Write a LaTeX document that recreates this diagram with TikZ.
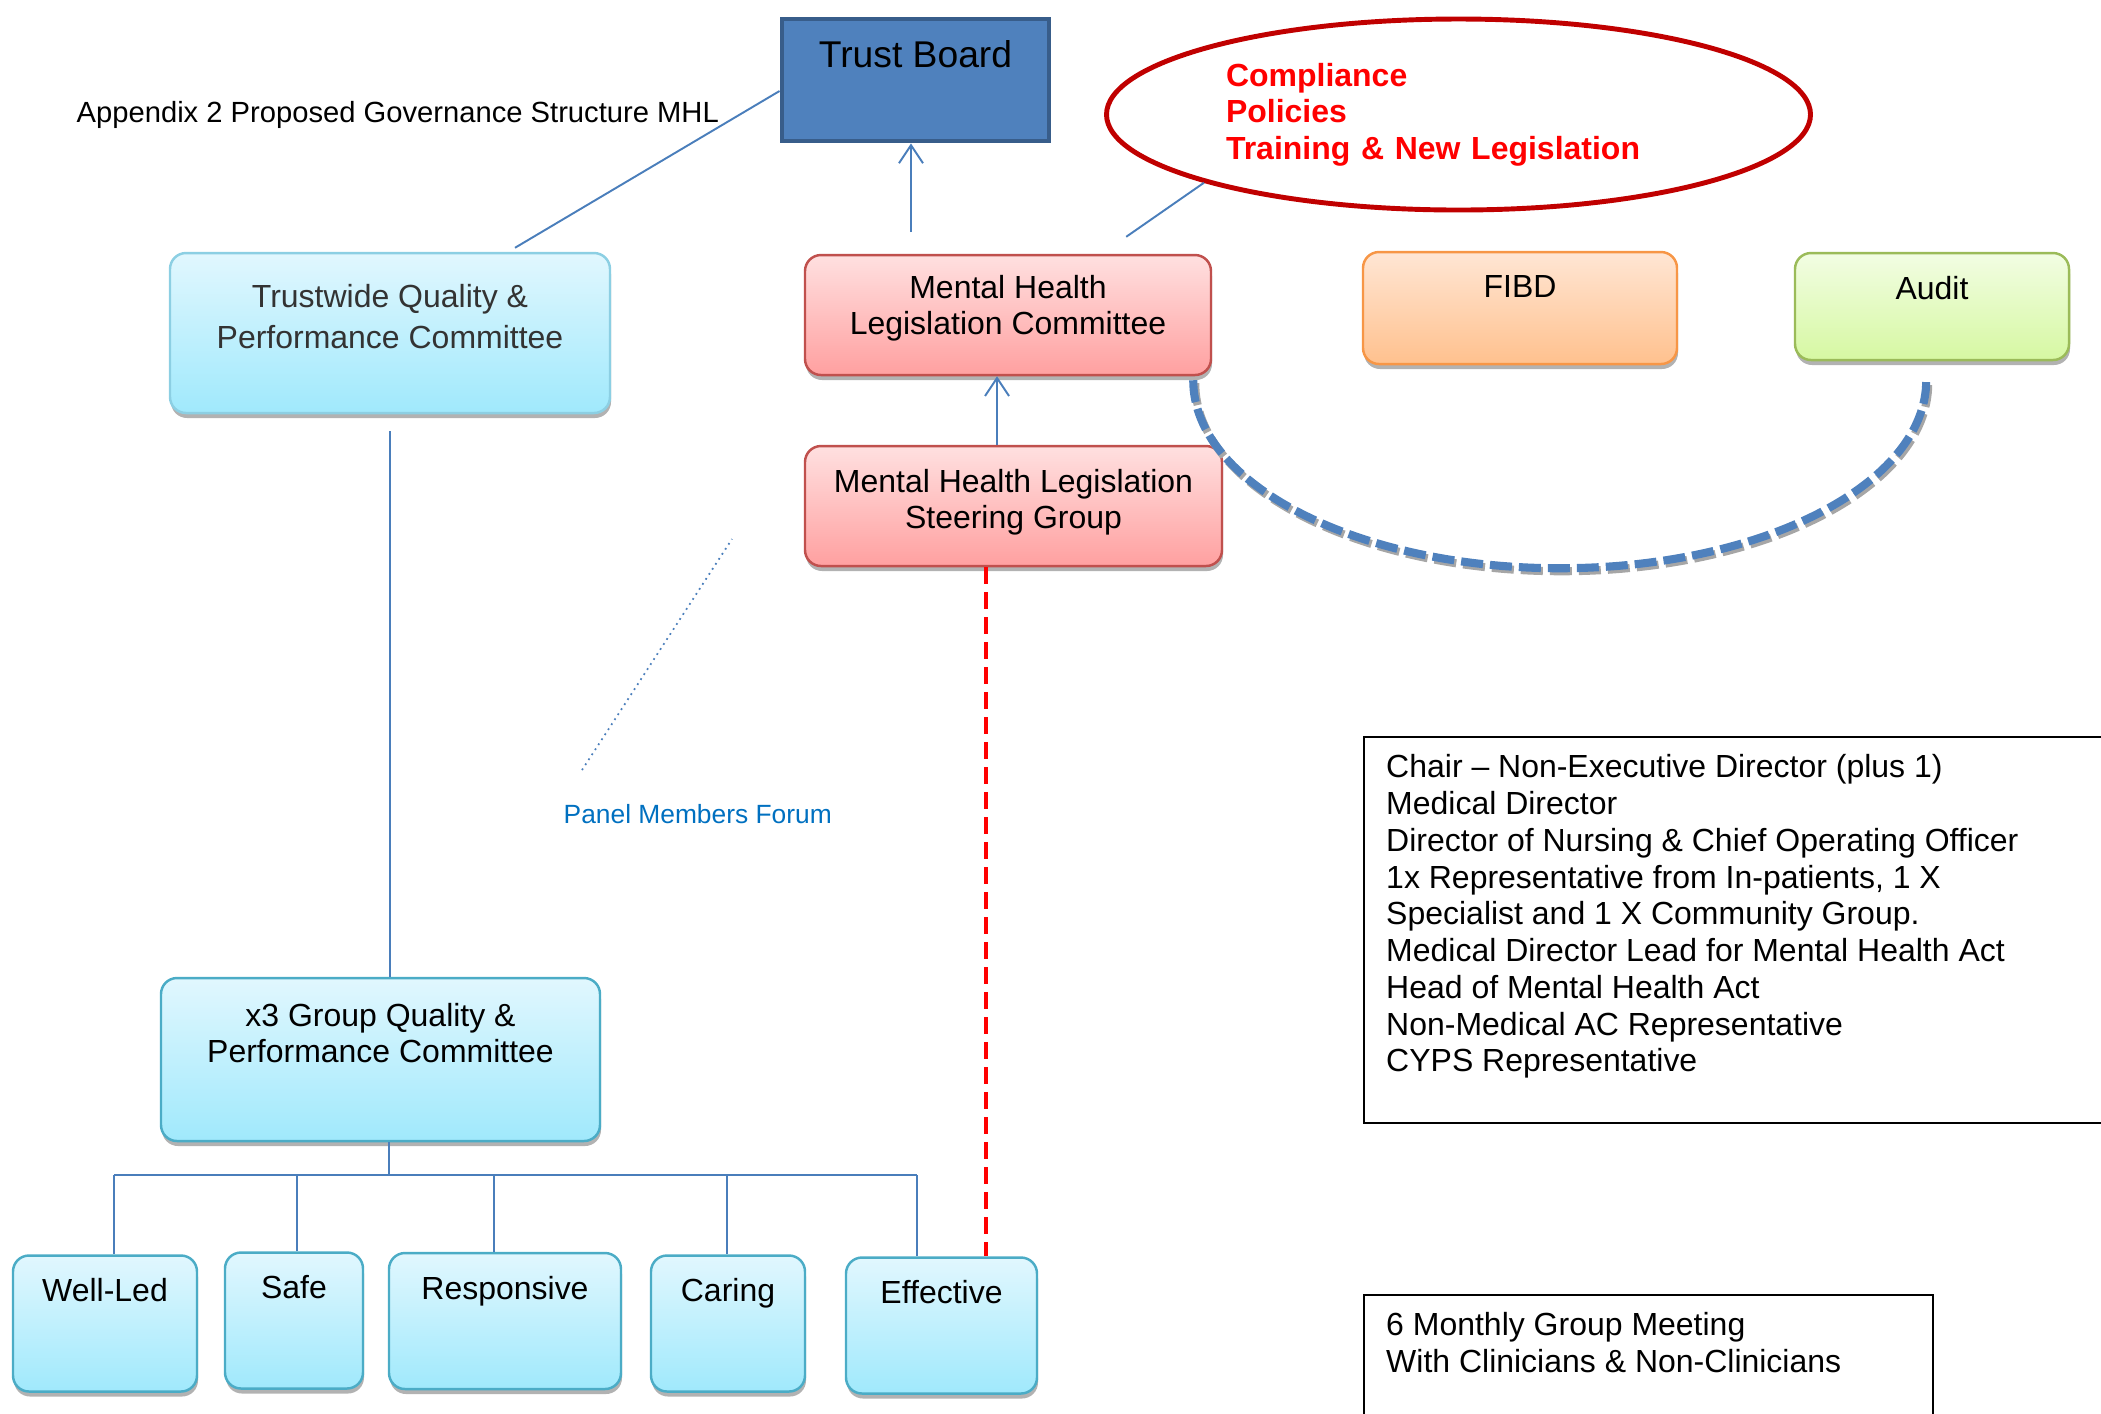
\documentclass[tikz,border=0pt]{standalone}
\usepackage{fontspec}
\setmainfont{Liberation Sans}
\usetikzlibrary{calc,arrows.meta,shapes.geometric,shadows}
\definecolor{linkblue}{HTML}{4A7EBB}
\definecolor{boardblue}{HTML}{4F81BD}
\definecolor{boardedge}{HTML}{385D8A}
\definecolor{aquatop}{HTML}{E1F7FE}
\definecolor{aquabot}{HTML}{A0E9FC}
\definecolor{aquaedge}{HTML}{4BACC6}
\definecolor{aquasoft}{HTML}{8CCFE3}
\definecolor{rosetop}{HTML}{FFE0E0}
\definecolor{rosebot}{HTML}{FFA0A0}
\definecolor{roseedge}{HTML}{C0504D}
\definecolor{ambertop}{HTML}{FFE6D4}
\definecolor{amberbot}{HTML}{FFC18E}
\definecolor{amberedge}{HTML}{F79646}
\definecolor{limetop}{HTML}{F2FDE3}
\definecolor{limebot}{HTML}{D6F8A2}
\definecolor{limeedge}{HTML}{9BBB59}
\definecolor{ovalred}{HTML}{C00000}
\definecolor{forumblue}{HTML}{0070C0}
\newcommand{\boxlines}[1]{\begin{tabular}[t]{@{}c@{}}#1\end{tabular}}
\tikzset{
	orgbox/.style={rectangle, rounded corners=0.16cm, line width=0.7pt, inner xsep=0pt, inner ysep=0pt, text height=0.46cm, font=\fontsize{9.1}{10.5}\selectfont, drop shadow={shadow xshift=0.01cm, shadow yshift=-0.05cm, fill=black, opacity=0.3}},
	aquabox/.style={orgbox, draw=aquaedge, top color=aquatop, bottom color=aquabot},
	rosebox/.style={orgbox, draw=roseedge, top color=rosetop, bottom color=rosebot},
	notebox/.style={rectangle, draw=black, line width=0.7pt, anchor=north west, inner xsep=0.22cm, inner ysep=0pt, font=\fontsize{9.1}{10.46}\selectfont},
	link/.style={draw=linkblue, line width=0.55pt},
	rise/.style={link, -{Straight Barb[length=1.8mm, width=2.4mm]}},
	loopdash/.style={line width=2.3pt, dash pattern=on 0.22cm off 0.07cm}
}
\begin{document}
\begin{tikzpicture}
	%%%%% START %%%%%
	\useasboundingbox (0, 0) rectangle (21.01, -14.13);
	\clip (0, 0) rectangle (21.01, -14.13);
	
	\node[anchor=base west, inner sep=0pt, font=\fontsize{8.3}{10}\selectfont] (title) at (0.76, -1.22) {Appendix 2 Proposed Governance Structure MHL};
	
	\node[rectangle, draw=boardedge, line width=1.4pt, fill=boardblue, minimum width=2.67cm, inner sep=0pt, text height=0.48cm, text depth=0.74cm, font=\fontsize{10.6}{12}\selectfont] (board) at (9.155, -0.80) {Trust Board};
	
	\node[aquabox, draw=aquasoft, minimum width=4.40cm, text height=0.54cm, text depth=1.06cm, text=black!80] (trustwide) at (3.90, -3.33) {\renewcommand{\arraystretch}{1.13}\boxlines{Trustwide Quality \&\\Performance Committee}};
	\node[rosebox, minimum width=4.06cm, text height=0.43cm, text depth=0.77cm] (mhlc) at (10.08, -3.15) {\boxlines{Mental Health\\Legislation Committee}};
	\node[rosebox, minimum width=4.17cm, text depth=0.74cm] (steer) at (10.135, -5.06) {\boxlines{Mental Health Legislation\\Steering Group}};
	\node[orgbox, draw=amberedge, top color=ambertop, bottom color=amberbot, minimum width=3.14cm, text height=0.45cm, text depth=0.67cm] (fibd) at (15.20, -3.08) {FIBD};
	\node[orgbox, draw=limeedge, top color=limetop, bottom color=limebot, minimum width=2.74cm, text depth=0.61cm] (audit) at (19.32, -3.065) {Audit};
	
	\node[ellipse, draw=ovalred, line width=1.4pt, minimum width=7.04cm, minimum height=1.91cm, inner sep=0pt, text width=4.65cm, align=left, text=red, font=\bfseries\fontsize{9.1}{10.4}\selectfont] (focus) at (14.585, -1.145) {Compliance\\Policies\\Training \& New Legislation};
	
	\node[aquabox, minimum width=4.39cm, text height=0.48cm, text depth=1.15cm] (x3) at (3.805, -10.595) {\boxlines{x3 Group Quality \&\\Performance Committee}};
	
	\node[aquabox, minimum width=1.84cm, text depth=0.90cm] (wellled) at (1.05, -13.235) {Well-Led};
	\node[aquabox, minimum width=1.38cm, text depth=0.90cm] (safe) at (2.94, -13.205) {Safe};
	\node[aquabox, minimum width=2.32cm, text depth=0.90cm] (responsive) at (5.05, -13.21) {Responsive};
	\node[aquabox, minimum width=1.54cm, text depth=0.90cm] (caring) at (7.28, -13.235) {Caring};
	\node[aquabox, minimum width=1.91cm, text depth=0.90cm] (effective) at (9.415, -13.255) {Effective};
	
	\node[anchor=base west, inner sep=0pt, text=forumblue, font=\fontsize{7.5}{9}\selectfont] (forum) at (5.63, -8.23) {Panel Members Forum};
	
	\node[notebox, text height=0.41cm, text depth=3.45cm] (members) at (13.63, -7.355) {\parbox[t]{7.6cm}{\raggedright Chair – Non-Executive Director (plus 1)\\Medical Director\\Director of Nursing \& Chief Operating Officer\\1x Representative from In-patients, 1 X\\Specialist and 1 X Community Group.\\Medical Director Lead for Mental Health Act\\Head of Mental Health Act\\Non-Medical AC Representative\\CYPS Representative}};
	\node[notebox, text height=0.40cm, text depth=1.6cm] (meeting) at (13.63, -12.94) {\parbox[t]{5.25cm}{\raggedright 6 Monthly Group Meeting\\With Clinicians \& Non-Clinicians}};
	
	% links
	\draw[link] ([yshift=-0.11cm]board.west) -- ([xshift=1.25cm, yshift=0.04cm]trustwide.north);
	\coordinate (mhlcup) at (9.11, -2.32);
	\draw[rise] (mhlcup) -- (mhlcup |- board.south);
	\coordinate (steerup) at ([xshift=-0.165cm]steer.north);
	\draw[rise] (steerup) -- (steerup |- mhlc.south);
	\draw[link] (focus.195) -- ($(mhlc.north east)+(-0.86, 0.17)$);
	
	\coordinate (tqdown) at ([yshift=-0.17cm]trustwide.south);
	\draw[link] (tqdown) -- (tqdown |- x3.north);
	
	\coordinate (bus) at (3.89, -11.75);
	\draw[link] (bus |- x3.south) -- (bus);
	\draw[link] (1.14, -11.75) -- (9.17, -11.75);
	\foreach \leaf/\x in {wellled/1.14, safe/2.97, responsive/4.94, caring/7.27, effective/9.17}
		\draw[link] (\x, -11.75) -- (\x, -11.75 |- \leaf.north);
	
	\coordinate (redtop) at ([xshift=-0.275cm]steer.south);
	\draw[red, line width=1.3pt, dash pattern=on 0.17cm off 0.08cm] (redtop) -- (redtop |- effective.north);
	
	\draw[loopdash, draw=black!35] ([xshift=-0.17cm, yshift=-0.07cm]mhlc.south east) arc[start angle=180, end angle=360, x radius=3.665cm, y radius=1.88cm];
	\draw[loopdash, draw=boardblue] ([xshift=-0.19cm, yshift=-0.04cm]mhlc.south east) arc[start angle=180, end angle=360, x radius=3.665cm, y radius=1.88cm];
	
	\draw[linkblue, line width=0.5pt, dash pattern=on 0.5pt off 1.2pt] (5.82, -7.70) -- (7.32, -5.39);
	
	%%%%% END %%%%%
\end{tikzpicture}
\end{document}
